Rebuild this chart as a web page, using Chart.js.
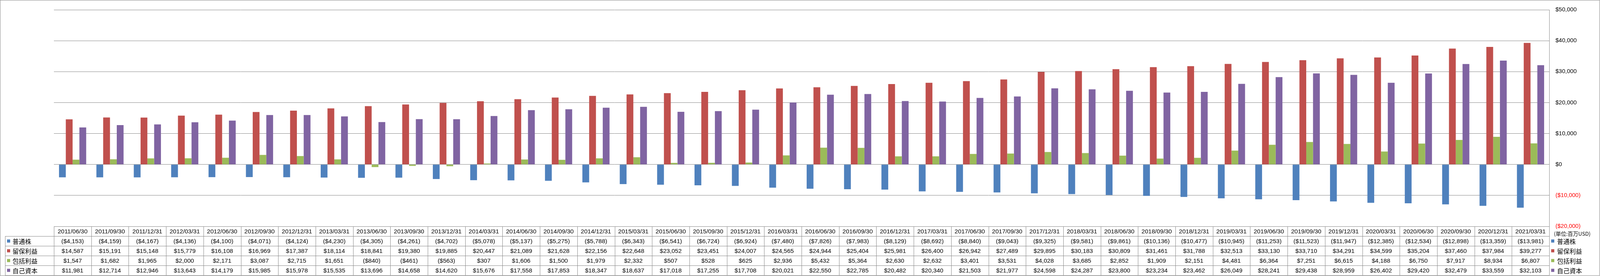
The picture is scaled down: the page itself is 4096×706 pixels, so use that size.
<!DOCTYPE html>
<html>
<head>
<meta charset="utf-8">
<script src="https://cdn.jsdelivr.net/npm/chart.js@4.4.1/dist/chart.umd.min.js"></script>
<style>
  html, body { margin: 0; padding: 0; background: #fff; overflow: hidden; }
  canvas { display: block; }
</style>
</head>
<body>
<canvas id="chart" width="4096" height="706"></canvas>
<script>
const dates = [
  '2011/06/30','2011/09/30','2011/12/31','2012/03/31','2012/06/30','2012/09/30','2012/12/31','2013/03/31',
  '2013/06/30','2013/09/30','2013/12/31','2014/03/31','2014/06/30','2014/09/30','2014/12/31','2015/03/31',
  '2015/06/30','2015/09/30','2015/12/31','2016/03/31','2016/06/30','2016/09/30','2016/12/31','2017/03/31',
  '2017/06/30','2017/09/30','2017/12/31','2018/03/31','2018/06/30','2018/09/30','2018/12/31','2019/03/31',
  '2019/06/30','2019/09/30','2019/12/31','2020/03/31','2020/06/30','2020/09/30','2020/12/31','2021/03/31'
];
const seriesNames = ['普通株', '留保利益', '包括利益', '自己資本'];
const commonStock = [
  -4153,-4159,-4167,-4136,-4100,-4071,-4124,-4230,-4305,-4261,-4702,-5078,-5137,-5275,-5788,-6343,
  -6541,-6724,-6924,-7480,-7826,-7983,-8129,-8692,-8840,-9043,-9325,-9581,-9861,-10136,-10477,-10945,
  -11253,-11523,-11947,-12385,-12534,-12898,-13359,-13981
];
const retainedEarnings = [
  14587,15191,15148,15779,16108,16969,17387,18114,18841,19380,19885,20447,21089,21628,22156,22648,
  23052,23451,24007,24565,24944,25404,25981,26400,26942,27489,29895,30183,30809,31461,31788,32513,
  33130,33710,34291,34599,35204,37460,37984,39277
];
const comprehensiveIncome = [
  1547,1682,1965,2000,2171,3087,2715,1651,-840,-461,-563,307,1606,1500,1979,2332,
  507,528,625,2936,5432,5364,2630,2632,3401,3531,4028,3685,2852,1909,2151,4481,
  6364,7251,6615,4188,6750,7917,8934,6807
];
const equity = [
  11981,12714,12946,13643,14179,15985,15978,15535,13696,14658,14620,15676,17558,17853,18347,18637,
  17018,17255,17708,20021,22550,22785,20482,20340,21503,21977,24598,24287,23800,23234,23462,26049,
  28241,29438,28959,26402,29420,32479,33559,32103
];
const yMin = -20000, yMax = 50000, yStep = 10000;
const unitLabel = '(単位:百万USD)';

const colors = ['#4F81BD', '#C0504D', '#9BBB59', '#8064A2'];
const lineColor = '#878787';
const latin = 'Liberation Sans';
const cjk = '"Noto Sans CJK JP"';

function money(v) {
  const s = '$' + Math.abs(v).toLocaleString('en-US');
  return v < 0 ? '(' + s + ')' : s;
}

const allSeries = [commonStock, retainedEarnings, comprehensiveIncome, equity];

// draws the data table under the plot, the side legend and the frame
const tablePlugin = {
  id: 'dataTable',
  beforeDraw(chart) {
    const ctx = chart.ctx;
    ctx.save();
    ctx.fillStyle = '#fff';
    ctx.fillRect(0, 0, chart.width, chart.height);
    ctx.restore();
  },
  afterDraw(chart) {
    const ctx = chart.ctx;
    const xs = chart.scales.x;
    const area = chart.chartArea;
    const colW = (area.right - area.left) / dates.length;
    const rowH = 25;
    const top = area.bottom;
    const labelLeft = 13;
    const p = v => Math.round(v) + 0.5;

    ctx.save();
    ctx.strokeStyle = lineColor;
    ctx.lineWidth = 1;
    ctx.beginPath();
    // header top
    ctx.moveTo(area.left, p(top)); ctx.lineTo(area.right, p(top));
    for (let r = 1; r <= 5; r++) {
      const y = p(top + r * rowH);
      ctx.moveTo(labelLeft, y); ctx.lineTo(area.right, y);
    }
    ctx.moveTo(p(labelLeft), p(top + rowH)); ctx.lineTo(p(labelLeft), p(top + 5 * rowH));
    for (let i = 0; i <= dates.length; i++) {
      const x = p(area.left + i * colW);
      ctx.moveTo(x, p(top)); ctx.lineTo(x, p(top + 5 * rowH));
    }
    ctx.stroke();

    ctx.textAlign = 'center';
    ctx.textBaseline = 'middle';
    ctx.fillStyle = '#000';
    ctx.font = '15.5px "' + latin + '"';
    dates.forEach((d, i) => {
      const cx = xs.getPixelForValue(i);
      ctx.fillText(d, cx, top + rowH / 2 + 1);
      allSeries.forEach((s, r) => {
        ctx.fillText(money(s[i]), cx, top + (r + 1.5) * rowH + 1);
      });
    });

    // row labels in table and legend on the right
    ctx.textAlign = 'left';
    ctx.font = '16px ' + cjk;
    seriesNames.forEach((name, r) => {
      const cy = top + (r + 1.5) * rowH;
      ctx.fillStyle = colors[r];
      ctx.fillRect(18, cy - 4, 8, 8);
      ctx.fillRect(area.right + 5, cy - 4, 8, 8);
      ctx.fillStyle = '#000';
      ctx.fillText(name, 32, cy + 1);
      ctx.fillText(name, area.right + 20, cy + 1);
    });

    ctx.font = '13.5px ' + cjk;
    ctx.fillText(unitLabel, area.right + 12, top + 19);

    // outer frame
    ctx.strokeStyle = lineColor;
    ctx.strokeRect(0.5, 0.5, chart.width - 1.5, chart.height - 1.5);
    ctx.restore();
  }
};

new Chart(document.getElementById('chart'), {
  type: 'bar',
  data: {
    labels: dates,
    datasets: seriesNames.map((name, i) => ({
      label: name,
      data: allSeries[i],
      backgroundColor: colors[i],
      borderWidth: 0,
      barPercentage: 1.0,
      categoryPercentage: 0.727
    }))
  },
  options: {
    responsive: false,
    devicePixelRatio: 1,
    animation: false,
    layout: { padding: { top: 11, bottom: 127, left: 138, right: 0 } },
    plugins: { legend: { display: false }, tooltip: { enabled: false } },
    scales: {
      x: { display: false },
      y: {
        position: 'right',
        min: yMin,
        max: yMax,
        afterFit(scale) { scale.width = 130; },
        ticks: {
          stepSize: yStep,
          padding: 16,
          color: c => (c.tick && c.tick.value < 0 ? '#FF0000' : '#000'),
          font: { family: latin, size: 15 },
          callback: v => money(v)
        },
        grid: { color: lineColor, lineWidth: 1, drawTicks: false },
        border: { display: true, color: lineColor }
      }
    }
  },
  plugins: [tablePlugin]
});
</script>
</body>
</html>
